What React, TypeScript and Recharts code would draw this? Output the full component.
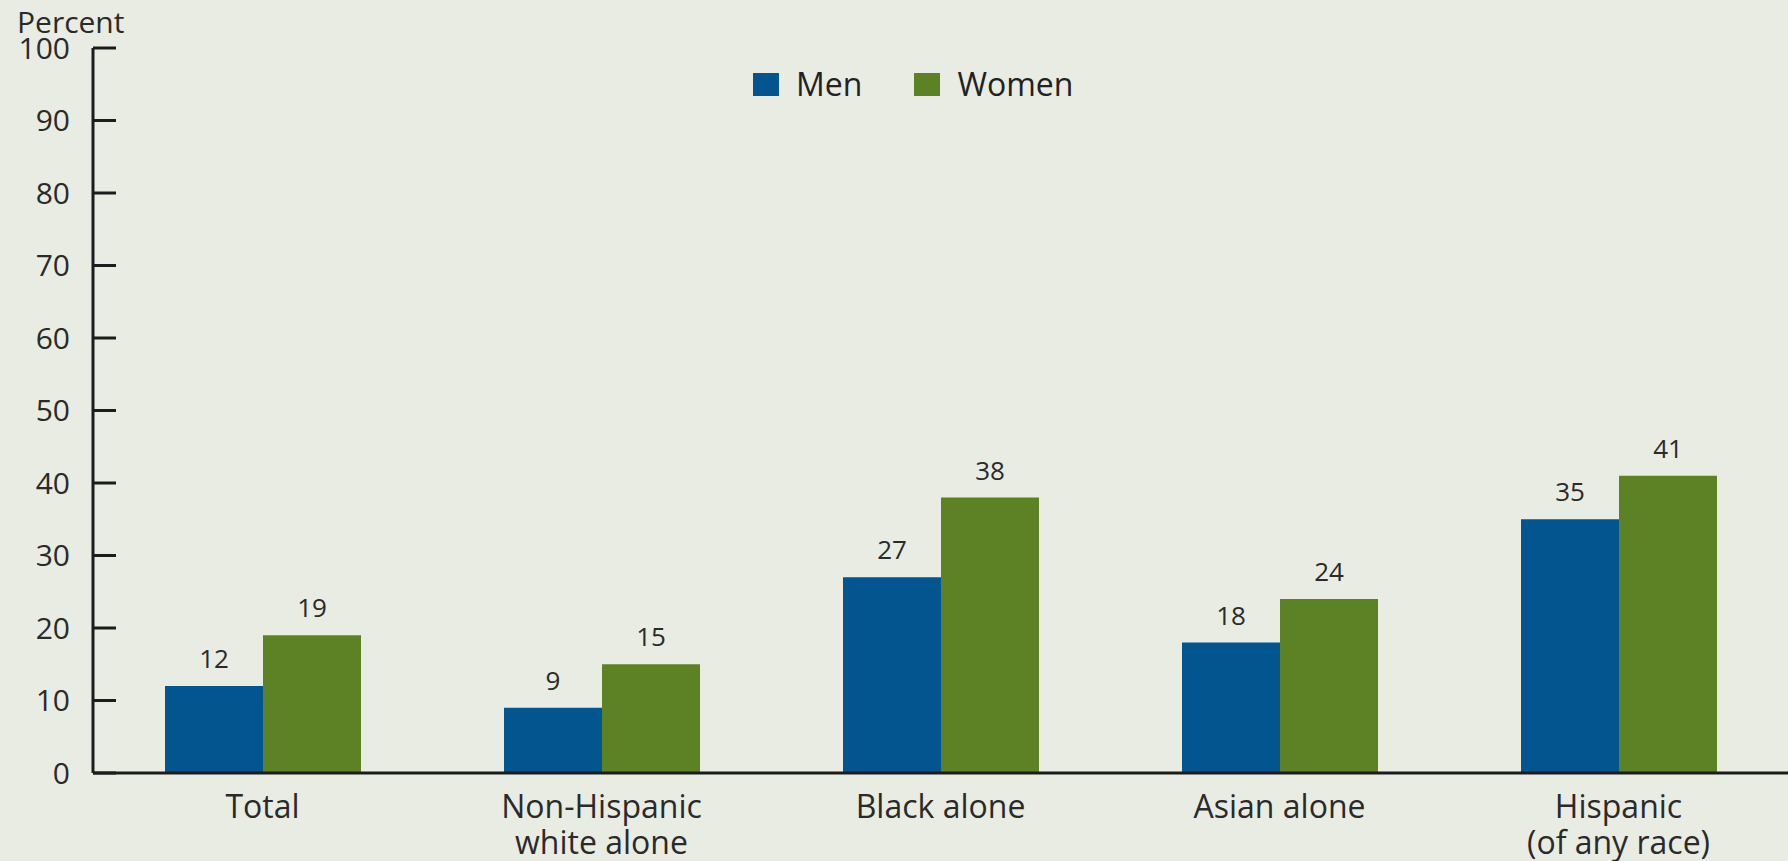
import React from 'react'
import {
  BarChart,
  Bar,
  XAxis,
  YAxis,
  Legend,
  LabelList
} from 'recharts'

const categories = [
  'Total',
  'Non-Hispanic\nwhite alone',
  'Black alone',
  'Asian alone',
  'Hispanic\n(of any race)'
]
const menValues = [12, 9, 27, 18, 35]
const womenValues = [19, 15, 38, 24, 41]
const yTicks = [0, 10, 20, 30, 40, 50, 60, 70, 80, 90, 100]

const MEN_COLOR = '#03558f'
const WOMEN_COLOR = '#5d8226'
const BG = '#e9ece3'
const INK = '#1c1c1c'
const FONT = '"Open Sans", sans-serif'

const data = categories.map((name, i) => ({
  name,
  men: menValues[i],
  women: womenValues[i]
}))

// y tick: label to the left, tick mark pointing into the plot
// eslint-disable-next-line @typescript-eslint/no-explicit-any
const YTick = ({ x, y, payload }: any) => (
  <g>
    <line x1={x + 23} x2={x + 46} y1={y} y2={y} stroke={INK} strokeWidth={3} />
    <text x={x} y={y} dy="0.36em" textAnchor="end" fontSize={30} fill="#2a2a2a" fontFamily={FONT}>
      {payload.value}
    </text>
  </g>
)

// eslint-disable-next-line @typescript-eslint/no-explicit-any
const XTick = ({ x, y, payload }: any) => {
  const lines = String(payload.value).split('\n')
  return (
    <text x={x} y={y} textAnchor="middle" fontSize={32} fill="#2a2a2a" fontFamily={FONT}>
      {lines.map((line, i) => (
        <tspan key={i} x={x} dy={i === 0 ? 45 : 36}>
          {line}
        </tspan>
      ))}
    </text>
  )
}

// eslint-disable-next-line @typescript-eslint/no-explicit-any
const LegendContent = ({ payload }: any) => (
  <div style={{ display: 'flex', alignItems: 'center', fontFamily: FONT, fontSize: 32, color: '#222' }}>
    {/* eslint-disable-next-line @typescript-eslint/no-explicit-any */}
    {(payload || []).map((entry: any, i: number) => (
      <div key={entry.value} style={{ display: 'flex', alignItems: 'center', marginLeft: i === 0 ? 0 : 52 }}>
        <span style={{ display: 'inline-block', width: 26, height: 23, background: entry.color, marginRight: 17 }} />
        <span style={{ lineHeight: '32px' }}>{entry.value}</span>
      </div>
    ))}
  </div>
)

export default function App() {
  return (
    <div
      style={{
        position: 'absolute',
        left: 0,
        top: 0,
        width: 1788,
        height: 861,
        background: BG,
        overflow: 'hidden'
      }}
    >
      <div
        style={{
          position: 'absolute',
          left: 17,
          top: 7,
          fontFamily: FONT,
          fontSize: 30,
          lineHeight: '30px',
          color: '#2a2a2a'
        }}
      >
        Percent
      </div>
      <BarChart
        width={1788}
        height={861}
        data={data}
        margin={{ top: 48, right: 0, left: 0, bottom: 0 }}
        barCategoryGap={72}
        barGap={0}
      >
        <XAxis
          dataKey="name"
          height={88}
          tickLine={false}
          tickSize={0}
          tickMargin={0}
          axisLine={{ stroke: INK, strokeWidth: 3 }}
          tick={<XTick />}
          interval={0}
        />
        <YAxis
          width={93}
          domain={[0, 100]}
          ticks={yTicks}
          interval={0}
          tickLine={false}
          tickSize={0}
          tickMargin={23}
          axisLine={{ stroke: INK, strokeWidth: 3 }}
          tick={<YTick />}
        />
        <Legend
          layout="horizontal"
          verticalAlign="middle"
          align="center"
          wrapperStyle={{ top: 68, left: 753, width: 'auto', height: 'auto' }}
          content={<LegendContent />}
        />
        <Bar dataKey="men" name="Men" fill={MEN_COLOR} isAnimationActive={false}>
          <LabelList dataKey="men" position="top" offset={18} fontSize={26} fill="#2a2a2a" fontFamily={FONT} />
        </Bar>
        <Bar dataKey="women" name="Women" fill={WOMEN_COLOR} isAnimationActive={false}>
          <LabelList dataKey="women" position="top" offset={18} fontSize={26} fill="#2a2a2a" fontFamily={FONT} />
        </Bar>
      </BarChart>
    </div>
  )
}
